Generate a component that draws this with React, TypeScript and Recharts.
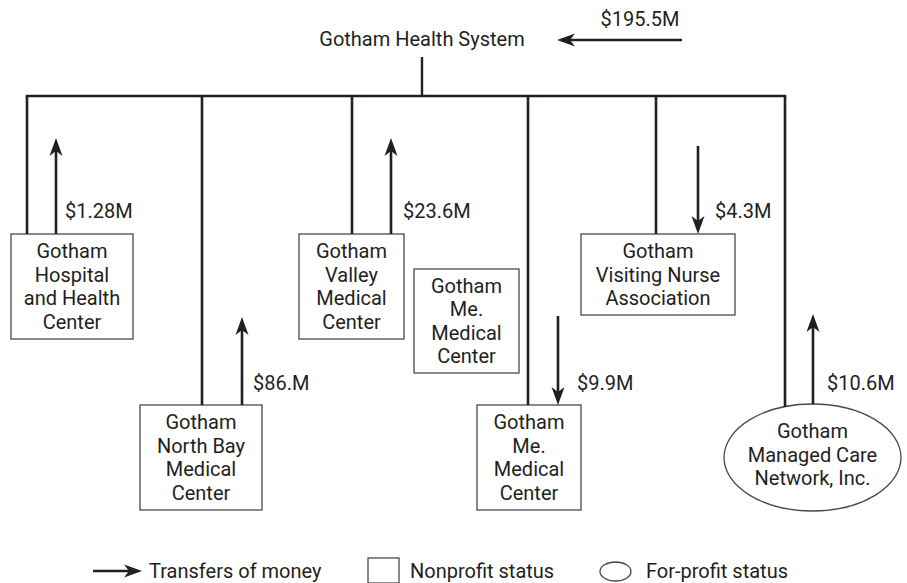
import React from "react";
import {
	ComposedChart,
	XAxis,
	YAxis,
	Scatter,
	ReferenceArea,
	ReferenceLine,
} from "recharts";

const FONT = "Roboto, 'Open Sans', sans-serif";
const INK = "#231f20";
const BOX_INK = "#4a4a4a";

// figure space: x to the right, y downward, same units as the original page
const headName = "Gotham Health System";
const headAt = [{ x: 422, y: 39 }];
const stemX = 422;
const stemTop = 57;
const busY = 96;
const busLeft = 27;
const busRight = 785;

const unitNames = [
	["Gotham", "Hospital", "and Health", "Center"],
	["Gotham", "North Bay", "Medical", "Center"],
	["Gotham", "Valley", "Medical", "Center"],
	["Gotham", "Me.", "Medical", "Center"],
	["Gotham", "Me.", "Medical", "Center"],
	["Gotham", "Visiting Nurse", "Association"],
	["Gotham", "Managed Care", "Network, Inc."],
];
const unitStatus = ["nonprofit", "nonprofit", "nonprofit", "nonprofit", "nonprofit", "nonprofit", "forprofit"];
const unitLeft = [11, 140, 299, 414, 477, 581, 724];
const unitRight = [133, 262, 404, 519, 581, 735, 901];
const unitTop = [234, 405, 234, 269, 405, 234, 404];
const unitBottom = [339, 510, 339, 373, 510, 315, 511];
// drop from the bus to each unit (null: not linked)
const branchX = [27, 202, 352, null, 528, 656, 785];
const branchEnd = [234, 405, 234, null, 405, 234, 407];

const transferAmounts = ["$195.5M", "$1.28M", "$86.M", "$23.6M", "$4.3M", "$9.9M", "$10.6M"];
const transferFrom = [
	{ x: 682, y: 40 },
	{ x: 56, y: 234 },
	{ x: 242, y: 405 },
	{ x: 391, y: 234 },
	{ x: 698, y: 146 },
	{ x: 558, y: 316 },
	{ x: 813, y: 404 },
];
const transferTo = [
	{ x: 557, y: 40 },
	{ x: 56, y: 138 },
	{ x: 242, y: 317 },
	{ x: 391, y: 138 },
	{ x: 698, y: 234 },
	{ x: 558, y: 405 },
	{ x: 813, y: 314 },
];
const transferLabelAt = [
	{ x: 640, y: 19 },
	{ x: 65, y: 211 },
	{ x: 253, y: 383 },
	{ x: 403, y: 211 },
	{ x: 715, y: 211 },
	{ x: 577, y: 383 },
	{ x: 827, y: 383 },
];
const transferLabelAnchor = ["middle", "start", "start", "start", "start", "start", "start"];

const legendLabels = ["Transfers of money", "Nonprofit status", "For-profit status"];
const legendTextAt = [
	{ x: 149, y: 571 },
	{ x: 410, y: 571 },
	{ x: 646, y: 571 },
];
const legendArrow = [{ x: 93, y: 571 }, { x: 142, y: 571 }];
const legendBox = { x1: 368, x2: 399, y1: 558, y2: 583 };
const legendOval = { x1: 600, x2: 631, y1: 562, y2: 581 };

const ArrowShape = (props: any) => {
	const { x1, y1, x2, y2 } = props;
	const len = Math.hypot(x2 - x1, y2 - y1) || 1;
	const dx = (x2 - x1) / len;
	const dy = (y2 - y1) / len;
	const nx = -dy;
	const ny = dx;
	const L = 18;
	const w = 6.5;
	const bx = x2 - dx * L;
	const by = y2 - dy * L;
	const kx = x2 - dx * (L - 5);
	const ky = y2 - dy * (L - 5);
	return (
		<g>
			<line x1={x1} y1={y1} x2={kx} y2={ky} stroke={INK} strokeWidth={2.6} />
			<path
				d={`M${x2},${y2} L${bx + nx * w},${by + ny * w} L${kx},${ky} L${bx - nx * w},${by - ny * w} Z`}
				fill={INK}
			/>
		</g>
	);
};

const unitShape = (i: number) => (props: any) => {
	const { x, y, width, height } = props;
	const lines = unitNames[i];
	const cx = x + width / 2;
	const cy = y + height / 2 + (unitStatus[i] === "forprofit" ? -3 : 0);
	const lh = 23.5;
	return (
		<g>
			{unitStatus[i] === "forprofit" ? (
				<ellipse cx={cx} cy={y + height / 2} rx={width / 2} ry={height / 2} fill="#fff" stroke={BOX_INK} strokeWidth={1.3} />
			) : (
				<rect x={x} y={y} width={width} height={height} fill="#fff" stroke={BOX_INK} strokeWidth={1.3} />
			)}
			{lines.map((t, k) => (
				<text
					key={k}
					x={cx}
					y={cy + (k - (lines.length - 1) / 2) * lh}
					textAnchor="middle"
					dominantBaseline="central"
					fontSize={20}
					fontFamily={FONT}
					fill={INK}
				>
					{t}
				</text>
			))}
		</g>
	);
};

const textShape = (anchor: string) => (props: any) => (
	<text
		x={props.cx}
		y={props.cy}
		textAnchor={anchor}
		dominantBaseline="central"
		fontSize={props.payload.size}
		fontFamily={FONT}
		fill={INK}
	>
		{props.payload.label}
	</text>
);

const App = () => {
	const headData = headAt.map((p) => ({ ...p, label: headName, size: 20 }));
	const legendData = legendTextAt.map((p, i) => ({ ...p, label: legendLabels[i], size: 20 }));

	return (
		<div style={{ position: "absolute", left: 0, top: 0, fontFamily: FONT }}>
			<ComposedChart width={907} height={583} margin={{ top: 0, right: 0, bottom: 0, left: 0 }}>
				<XAxis type="number" dataKey="x" domain={[0, 907]} hide allowDataOverflow />
				<YAxis type="number" dataKey="y" domain={[0, 583]} reversed hide allowDataOverflow />

				{/* tree */}
				<ReferenceLine
					segment={[{ x: stemX, y: stemTop }, { x: stemX, y: busY }]}
					stroke={INK}
					strokeWidth={2.4}
				/>
				<ReferenceLine
					segment={[{ x: busLeft, y: busY }, { x: busRight, y: busY }]}
					stroke={INK}
					strokeWidth={2.6}
					strokeLinecap="square"
				/>
				{branchX.map((bx, i) =>
					bx == null ? null : (
						<ReferenceLine
							key={`b${i}`}
							segment={[{ x: bx, y: busY }, { x: bx, y: branchEnd[i] as number }]}
							stroke={INK}
							strokeWidth={2.6}
						/>
					),
				)}

				{/* units */}
				{unitNames.map((_, i) => (
					<ReferenceArea
						key={`u${i}`}
						x1={unitLeft[i]}
						x2={unitRight[i]}
						y1={unitTop[i]}
						y2={unitBottom[i]}
						shape={unitShape(i)}
					/>
				))}

				{/* money transfers */}
				{transferAmounts.map((_, i) => (
					<ReferenceLine
						key={`t${i}`}
						segment={[transferFrom[i], transferTo[i]]}
						shape={ArrowShape}
					/>
				))}
				{transferAmounts.map((amt, i) => (
					<Scatter
						key={`tl${i}`}
						data={[{ ...transferLabelAt[i], label: amt, size: 20 }]}
						shape={textShape(transferLabelAnchor[i])}
						isAnimationActive={false}
					/>
				))}

				<Scatter data={headData} shape={textShape("middle")} isAnimationActive={false} />

				{/* key */}
				<ReferenceLine segment={legendArrow} shape={ArrowShape} />
				<ReferenceArea
					x1={legendBox.x1}
					x2={legendBox.x2}
					y1={legendBox.y1}
					y2={legendBox.y2}
					shape={(p: any) => (
						<rect x={p.x} y={p.y} width={p.width} height={p.height} fill="#fff" stroke={BOX_INK} strokeWidth={1.3} />
					)}
				/>
				<ReferenceArea
					x1={legendOval.x1}
					x2={legendOval.x2}
					y1={legendOval.y1}
					y2={legendOval.y2}
					shape={(p: any) => (
						<ellipse
							cx={p.x + p.width / 2}
							cy={p.y + p.height / 2}
							rx={p.width / 2}
							ry={p.height / 2}
							fill="#fff"
							stroke={BOX_INK}
							strokeWidth={1.3}
						/>
					)}
				/>
				<Scatter data={legendData} shape={textShape("start")} isAnimationActive={false} />
			</ComposedChart>
		</div>
	);
};

export default App;
